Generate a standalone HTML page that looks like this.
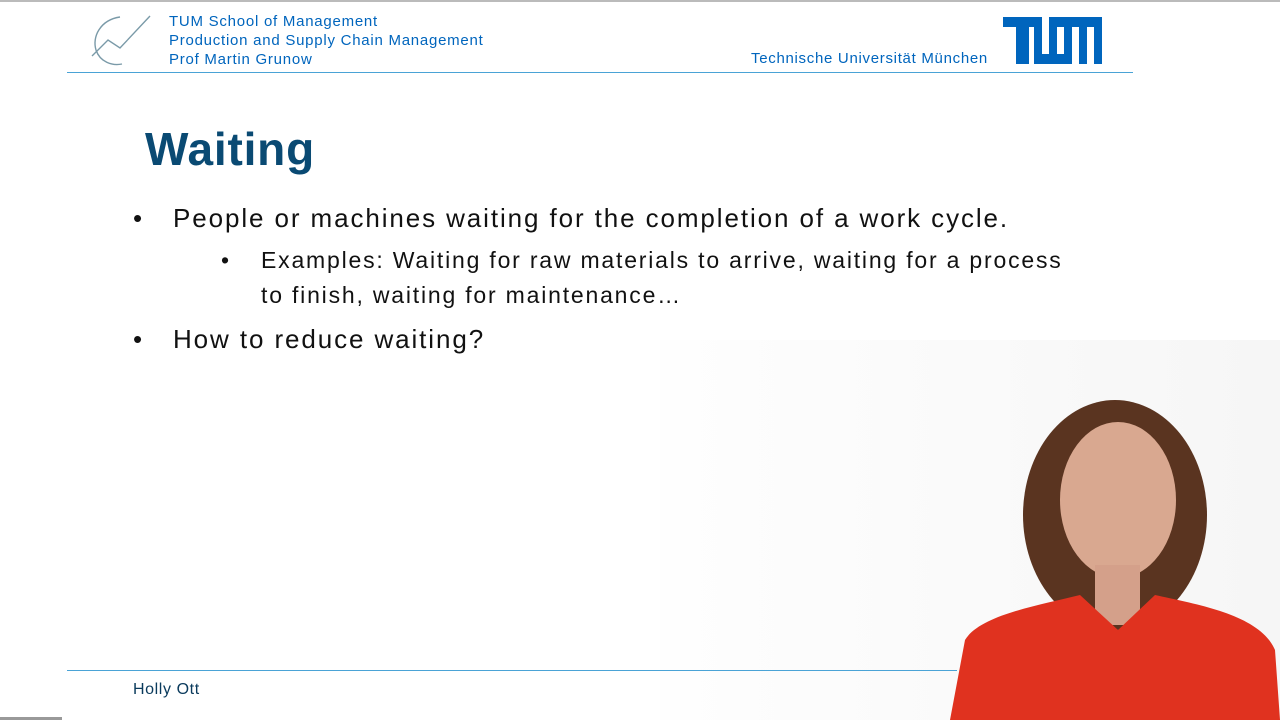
<!DOCTYPE html>
<html><head><meta charset="utf-8"><style>
body{margin:0;width:1280px;height:720px;overflow:hidden;background:#fff;font-family:"Liberation Sans",Arial,sans-serif;position:relative}
.a{position:absolute;white-space:nowrap}
.blue{color:#0065bd}
</style></head><body>
<div class="a" style="left:0;top:0;width:1280px;height:2px;background:#bbb"></div>
<div class="a" style="left:660px;top:340px;width:620px;height:380px;background:linear-gradient(90deg,#fefefe,#f6f6f6)"></div>
<svg class="a" style="left:90px;top:12px" width="64" height="58">
<path d="M30 5 C10 8,2 25,6 38 C10 50,22 54,32 52" fill="none" stroke="#7a9aa8" stroke-width="1.4"/>
<path d="M2 44 L18 28 L30 36 L60 4" fill="none" stroke="#7a9aa8" stroke-width="1.4"/>
</svg>
<div class="a blue" style="left:169px;top:12px;font-size:15px;line-height:19px;letter-spacing:0.75px">TUM School of Management<br>Production and Supply Chain Management<br>Prof Martin Grunow</div>
<div class="a blue" style="left:751px;top:50px;font-size:15px;letter-spacing:0.7px">Technische Universität München</div>
<svg class="a" style="left:1003px;top:17px" width="99" height="48">
<g fill="#0065bd">
<rect x="0" y="0" width="39" height="10"/><rect x="13" y="0" width="13" height="47"/>
<rect x="31" y="0" width="8" height="47"/><rect x="31" y="37" width="30" height="10"/><rect x="46" y="0" width="8" height="40"/>
<rect x="46" y="0" width="53" height="10"/><rect x="61" y="0" width="8" height="47"/><rect x="76" y="0" width="8" height="47"/><rect x="91" y="0" width="8" height="47"/>
</g></svg>
<div class="a" style="left:67px;top:72px;width:1066px;height:1px;background:#4aa3d6"></div>
<div class="a" style="left:145px;top:122px;font-size:46px;font-weight:bold;color:#0a4a73;letter-spacing:0.8px">Waiting</div>
<div class="a" style="left:133px;top:203px;font-size:26px;color:#111">•<span style="position:absolute;left:40px;letter-spacing:1.9px">People or machines waiting for the completion of a work cycle.</span></div>
<div class="a" style="left:221px;top:243px;font-size:23px;color:#111;line-height:35px">•<span style="position:absolute;left:40px;letter-spacing:1.8px">Examples: Waiting for raw materials to arrive, waiting for a process<br>to finish, waiting for maintenance…</span></div>
<div class="a" style="left:133px;top:324px;font-size:26px;color:#111">•<span style="position:absolute;left:40px;letter-spacing:1.9px">How to reduce waiting?</span></div>
<svg class="a" style="left:940px;top:390px" width="340" height="330">
<ellipse cx="175" cy="125" rx="92" ry="115" fill="#5a3420"/>
<ellipse cx="178" cy="110" rx="58" ry="78" fill="#d9a890"/>
<rect x="155" y="175" width="45" height="60" fill="#d4a08a"/>
<path d="M10 330 L25 250 C40 225,100 215,140 205 L178 240 L215 205 C260 215,320 225,335 260 L340 330 Z" fill="#e0321f"/>
</svg>
<div class="a" style="left:67px;top:670px;width:890px;height:1px;background:#4aa3d6"></div>
<div class="a" style="left:133px;top:681px;font-size:16px;color:#0a3a5c;letter-spacing:0.6px">Holly Ott</div>
<div class="a" style="left:0;top:717px;width:62px;height:3px;background:#999"></div>
</body></html>
